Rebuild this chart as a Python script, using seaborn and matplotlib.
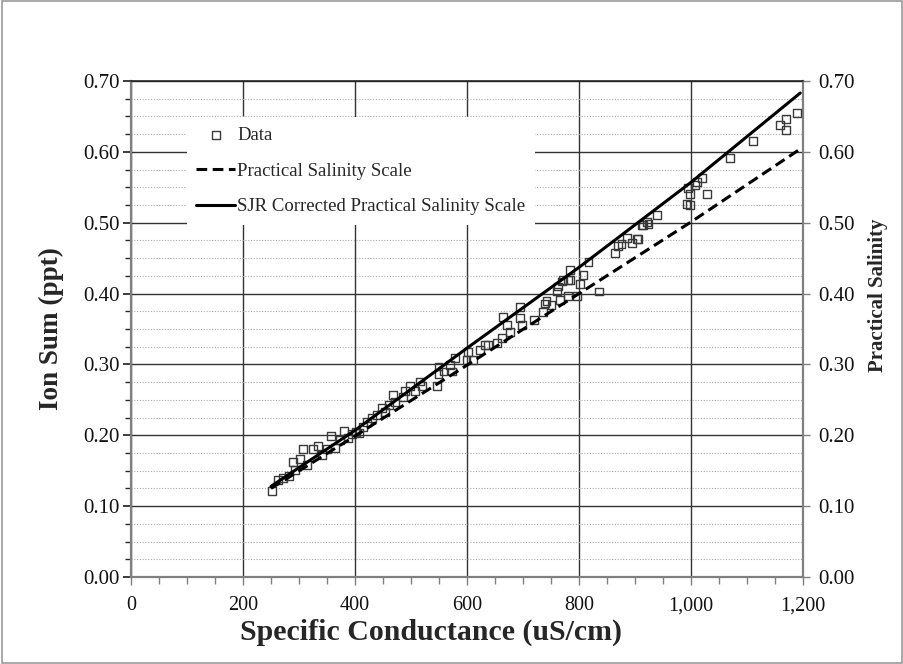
import numpy as np
import pandas as pd
import matplotlib
matplotlib.use("Agg")
import matplotlib.pyplot as plt
import seaborn as sns
from matplotlib.ticker import FuncFormatter, MultipleLocator
from matplotlib.patches import Rectangle

# ---- data ----
sc_data = [252, 262, 271, 282, 289, 293, 302, 307, 314, 325, 334, 341, 350, 357, 364, 373, 380, 387,
           395, 402, 407, 414, 421, 430, 439, 448, 454, 460, 468, 471, 486, 489, 498, 507, 516, 519,
           546, 549, 549, 558, 570, 573, 579, 599, 602, 611, 623, 632, 638, 653, 662, 665, 671, 677,
           695, 695, 698, 719, 736, 739, 742, 751, 760, 763, 766, 769, 772, 781, 781, 784, 784, 796,
           802, 808, 817, 835, 864, 870, 876, 885, 894, 903, 906, 912, 915, 921, 924, 939, 992, 995,
           998, 998, 1007, 1010, 1019, 1029, 1070, 1110, 1159, 1170, 1170, 1189]
ion_data = [0.121, 0.137, 0.140, 0.143, 0.162, 0.151, 0.167, 0.181, 0.158, 0.181, 0.185, 0.172, 0.181,
            0.199, 0.182, 0.193, 0.206, 0.196, 0.202, 0.205, 0.203, 0.212, 0.219, 0.224, 0.229, 0.238,
            0.233, 0.243, 0.257, 0.247, 0.254, 0.262, 0.269, 0.262, 0.276, 0.269, 0.269, 0.297, 0.287,
            0.290, 0.299, 0.290, 0.309, 0.306, 0.318, 0.306, 0.320, 0.327, 0.327, 0.330, 0.337, 0.367,
            0.356, 0.346, 0.381, 0.365, 0.356, 0.363, 0.374, 0.386, 0.389, 0.384, 0.403, 0.410, 0.391,
            0.417, 0.419, 0.396, 0.419, 0.433, 0.419, 0.396, 0.414, 0.426, 0.445, 0.403, 0.457, 0.467,
            0.470, 0.478, 0.471, 0.477, 0.477, 0.497, 0.497, 0.501, 0.498, 0.511, 0.527, 0.549, 0.525,
            0.541, 0.553, 0.558, 0.563, 0.540, 0.591, 0.615, 0.638, 0.646, 0.631, 0.655]

line_sc = [250, 400, 600, 800, 1000, 1195]
pss_vals = [0.125, 0.199, 0.299, 0.400, 0.501, 0.604]
sjr_vals = [0.128, 0.207, 0.323, 0.437, 0.557, 0.683]

x_ticks = [0, 200, 400, 600, 800, 1000, 1200]
y_ticks = [0.0, 0.1, 0.2, 0.3, 0.4, 0.5, 0.6, 0.7]

labels = ["Data", "Practical Salinity Scale", "SJR Corrected Practical Salinity Scale"]

# ---- style ----
sns.set_theme(style="white")
plt.rcParams['font.family'] = ['Liberation Serif', 'DejaVu Serif']

fig = plt.figure(figsize=(9.04, 6.64), dpi=100)
ax = fig.add_axes([131/904, 1 - 577/664, 672/904, 496/664])

df_pts = pd.DataFrame({"sc": sc_data, "ion": ion_data})
df_pss = pd.DataFrame({"sc": line_sc, "v": pss_vals})
df_sjr = pd.DataFrame({"sc": line_sc, "v": sjr_vals})

sns.scatterplot(data=df_pts, x="sc", y="ion", ax=ax, marker="s", s=32,
                facecolor="none", edgecolor="#3a3a3a", linewidth=1.0, zorder=3, label=labels[0])
sns.lineplot(data=df_pss, x="sc", y="v", ax=ax, color="black", lw=2.2,
             linestyle=(0, (3.5, 1.8)), zorder=4, label=labels[1])
sns.lineplot(data=df_sjr, x="sc", y="v", ax=ax, color="black", lw=2.2, zorder=4, label=labels[2])

ax.set_xlim(0, 1200)
ax.set_ylim(0, 0.7)
ax.set_xticks(x_ticks)
ax.xaxis.set_minor_locator(MultipleLocator(50))
ax.set_yticks(y_ticks)
ax.yaxis.set_minor_locator(MultipleLocator(0.025))
ax.xaxis.set_major_formatter(FuncFormatter(lambda v, p: f"{v:,.0f}"))
ax.yaxis.set_major_formatter(FuncFormatter(lambda v, p: f"{v:.2f}"))

ax.grid(True, which="major", axis="both", color="#333333", lw=1.0, zorder=0)
ax.grid(True, which="minor", axis="y", color="#aaaaaa", lw=0.8, linestyle=(0, (1, 1.5)), zorder=0)
ax.set_axisbelow(True)

for s in ["left", "bottom", "right"]:
    ax.spines[s].set_color("#808080")
    ax.spines[s].set_linewidth(1.6)
ax.spines["top"].set_color("#222222")
ax.spines["top"].set_linewidth(1.2)

ax.tick_params(axis="x", which="major", direction="out", length=6, width=1, color="#808080",
               labelsize=14.5, labelcolor="#111111", pad=8, bottom=True)
ax.tick_params(axis="x", which="minor", direction="out", length=5, width=1, color="#808080", bottom=True)
ax.tick_params(axis="y", which="both", left=False, labelsize=15, labelcolor="#111111", pad=2)

ax.set_xlabel("Specific Conductance (uS/cm)", fontsize=21.5, fontweight="bold")
ax.xaxis.set_label_coords((431 - 131) / 672, -0.085)
ax.set_ylabel("Ion Sum (ppt)", fontsize=19.5, fontweight="bold", labelpad=14)

ax2 = ax.twinx()
ax2.set_ylim(0, 0.7)
ax2.set_yticks(y_ticks)
ax2.yaxis.set_major_formatter(FuncFormatter(lambda v, p: f"{v:.2f}"))
ax2.tick_params(axis="y", which="major", direction="out", length=5, width=1, color="#808080",
                labelsize=15, labelcolor="#111111", pad=6, right=True)
for s in ax2.spines.values():
    s.set_visible(False)
ax2.set_ylabel("Practical Salinity", fontsize=15, fontweight="bold")
ax2.yaxis.set_label_coords((868 - 131) / 672, (577 - 295) / 496)
ax2.grid(False)

leg = ax.legend(loc="upper left", bbox_to_anchor=(0.069, 0.946), fontsize=13.5,
                frameon=True, facecolor="white", edgecolor="none", framealpha=1.0,
                handlelength=2.1, handletextpad=0.1, labelspacing=1.0, borderpad=0.5,
                fancybox=False)
leg.set_zorder(10)

fig.patches.append(Rectangle((0.002, 0.002), 0.996, 0.996, transform=fig.transFigure,
                             fill=False, edgecolor="#9a9a9a", lw=1.2))

fig.savefig("out.png", dpi=100)
